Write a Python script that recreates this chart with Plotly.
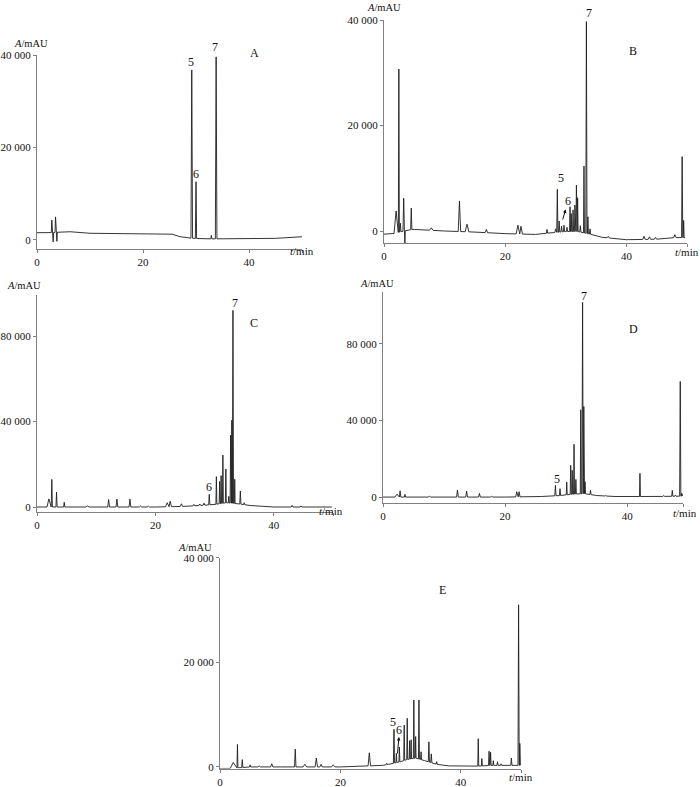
import numpy as np
import plotly.graph_objects as go

W, H = 700, 787
FONT = "Liberation Serif"

# ---------------- data (retention time in min, absorbance in mAU) ----------------
# Panel A
A_base_t = [0, 2.5, 6, 10, 20, 25.5, 27, 28.5, 31, 35, 45, 50]
A_base_y = [1580, 1580, 1800, 1450, 1300, 1250, 700, 450, 250, 250, 350, 700]
A_peak_t = [2.8, 3.05, 3.5, 3.75, 6.0, 29.2, 30.0, 32.9, 33.8]
A_peak_h = [4300, -400, 5000, -300, 1900, 36760, 12600, 1000, 39600]
A_peak_w = [0.1, 0.08, 0.1, 0.08, 0.2, 0.15, 0.12, 0.1, 0.15]

# Panel B
B_base_t = [0, 1.2, 4, 5, 10, 15, 20, 25, 27, 28, 30, 32, 34, 36, 40, 45, 48, 49.7]
B_base_y = [-600, -600, 200, 300, 0, -200, -500, -650, -400, -300, -100, -100, -600, -1200, -1650, -1550, -1250, -1250]
B_peak_t = [2.0, 2.45, 2.7, 3.25, 3.45, 4.5, 7.8, 12.45, 13.7, 16.9, 22.1, 22.6, 26.9,
            28.3, 28.6, 28.9, 29.3, 29.7, 30.2, 30.7, 30.9, 31.2, 31.5, 31.75, 31.95,
            32.4, 33.0, 33.4, 33.65, 34.0, 37.0, 42.9, 43.8, 44.8, 48.0, 49.2, 49.45]
B_peak_h = [3800, 30700, 1500, 6200, -2650, 4350, 600, 5700, 1300, 300, 1100, 900, 300,
            400, 7900, 1900, 900, 1100, 700, 4600, 3300, 4000, 4900, 8700, 6300,
            1000, 12300, 39700, 2700, 400, -1000, -1000, -1100, -1200, -700, 14100, 2000]
B_peak_w = [0.35, 0.08, 0.1, 0.12, 0.06, 0.1, 0.3, 0.2, 0.3, 0.2, 0.3, 0.25, 0.1,
            0.1, 0.1, 0.1, 0.1, 0.1, 0.1, 0.08, 0.08, 0.08, 0.08, 0.08, 0.08,
            0.1, 0.08, 0.1, 0.08, 0.1, 0.2, 0.2, 0.2, 0.2, 0.2, 0.1, 0.08]

# Panel C
C_base_t = [0, 1.5, 5, 10, 20, 25, 28, 30, 32, 34, 36, 40, 49.8]
C_base_y = [0, 0, 0, 0, 0, 300, 800, 1200, 2000, 1500, 700, 0, 0]
C_peak_t = [2.0, 2.5, 3.3, 4.6, 8.5, 12.1, 13.5, 15.7, 17.5, 18.8, 22.0, 22.5, 24.4,
            26.5, 27.5, 28.2, 29.1, 30.3, 30.85, 31.1, 31.4, 31.9, 32.4, 32.7, 32.9,
            33.1, 33.4, 34.35, 35.0, 43.1, 44.6]
C_peak_h = [3800, 12900, 6900, 2200, 500, 3500, 3700, 3700, 500, 400, 2000, 2700, 1500,
            1200, 1400, 1800, 5900, 14200, 12000, 14700, 24300, 17800, 5000, 33600, 40600,
            92000, 13000, 7500, 2000, 700, 500]
C_peak_w = [0.3, 0.1, 0.1, 0.1, 0.3, 0.15, 0.15, 0.15, 0.2, 0.2, 0.3, 0.2, 0.2,
            0.15, 0.15, 0.15, 0.1, 0.08, 0.08, 0.08, 0.08, 0.08, 0.08, 0.07, 0.07,
            0.1, 0.07, 0.1, 0.1, 0.15, 0.15]

# Panel D
D_base_t = [0, 2, 20, 26, 29, 31, 33, 35, 38, 45, 49.1]
D_base_y = [0, 0, 0, 300, 800, 1500, 1800, 800, 300, 300, 500]
D_peak_t = [2.3, 2.8, 3.6, 7.6, 12.2, 13.7, 15.8, 17.8, 21.9, 22.3, 27.4, 28.25, 29.0,
            30.1, 30.75, 31.0, 31.3, 31.6, 32.4, 32.7, 32.9, 33.1, 34.0, 36.5, 42.1,
            44.5, 46.0, 47.4, 47.9, 48.7, 48.95]
D_peak_h = [1500, 3300, 1400, 400, 3700, 3100, 1900, 400, 2800, 2800, 800, 6100, 4400,
            7800, 16600, 14000, 27600, 9200, 45600, 101700, 47300, 8000, 3500, 800, 12400,
            600, 800, 3500, 1000, 60400, 2000]
D_peak_w = [0.35, 0.12, 0.1, 0.2, 0.15, 0.15, 0.15, 0.2, 0.15, 0.15, 0.1, 0.1, 0.1,
            0.08, 0.08, 0.07, 0.08, 0.08, 0.08, 0.1, 0.07, 0.08, 0.1, 0.15, 0.08,
            0.1, 0.15, 0.1, 0.1, 0.1, 0.08]

# Panel E
E_base_t = [0, 1.5, 5, 10, 20, 27, 28, 30, 31, 32.5, 34, 36, 38, 42, 45, 48, 49.9]
E_base_y = [-300, -300, 0, 0, 0, 300, 500, 1000, 1400, 1700, 1200, 500, 200, 100, 300, 300, 300]
E_peak_t = [2.2, 2.9, 3.7, 5.0, 6.5, 8.6, 12.5, 14.1, 16.0, 16.8, 18.8, 24.8, 27.7,
            28.9, 29.3, 29.8, 30.6, 31.1, 31.5, 31.75, 32.2, 32.5, 33.05, 33.4, 34.7,
            35.1, 36.0, 42.9, 43.5, 44.7, 44.95, 45.4, 46.1, 46.7, 48.4, 49.6, 49.8]
E_peak_h = [850, 4300, 1400, 400, 200, 600, 3400, 500, 1700, 500, 400, 2700, 700,
            7200, 2600, 3800, 8000, 9300, 5000, 5200, 12800, 5800, 12800, 2900, 4800,
            2500, 1000, 5400, 1600, 3000, 2800, 1200, 1000, 600, 1700, 31000, 4500]
E_peak_w = [0.5, 0.08, 0.1, 0.1, 0.2, 0.2, 0.12, 0.3, 0.2, 0.2, 0.3, 0.2, 0.1,
            0.1, 0.08, 0.08, 0.08, 0.08, 0.07, 0.07, 0.08, 0.07, 0.08, 0.08, 0.1,
            0.1, 0.1, 0.08, 0.08, 0.1, 0.08, 0.08, 0.1, 0.1, 0.1, 0.1, 0.05]

# tick labels
ticks_20k = [0, 20000, 40000]
ticks_20k_text = ["0", "20 000", "40 000"]
ticks_40k = [0, 40000, 80000]
ticks_40k_text = ["0", "40 000", "80 000"]
x_ticks = [0, 20, 40]
x_ticks_text = ["0", "20", "40"]


def build(bt, by, pt, ph, pw):
    """Chromatogram trace: baseline knots plus a spike vertex per read peak."""
    xs, ys = [], []
    for t, y in zip(bt, by):
        if not any(abs(t - p) <= w for p, w in zip(pt, pw)):
            xs.append(t)
            ys.append(y)
    for t, h, w in zip(pt, ph, pw):
        xs += [t - w, t, t + w]
        ys += [float(np.interp(t - w, bt, by)), h, float(np.interp(t + w, bt, by))]
    order = np.argsort(xs, kind="stable")
    return [xs[i] for i in order], [ys[i] for i in order]


def px(x):
    return x / W


def py(y):
    return 1 - y / H


panels = [
    ("A", (A_base_t, A_base_y, A_peak_t, A_peak_h, A_peak_w), (37, 302), (55, 249), [0, 50], [-1950, 40000], ticks_20k, ticks_20k_text),
    ("B", (B_base_t, B_base_y, B_peak_t, B_peak_h, B_peak_w), (384, 687), (20, 243), [0, 50], [-2275, 40000], ticks_20k, ticks_20k_text),
    ("C", (C_base_t, C_base_y, C_peak_t, C_peak_h, C_peak_w), (37, 333), (295, 512), [0, 50], [-2340, 99200], ticks_40k, ticks_40k_text),
    ("D", (D_base_t, D_base_y, D_peak_t, D_peak_h, D_peak_w), (383, 683.3), (291.7, 503), [0, 49.2], [-3100, 107300], ticks_40k, ticks_40k_text),
    ("E", (E_base_t, E_base_y, E_peak_t, E_peak_h, E_peak_w), (220, 521), (557.7, 768.5), [0, 50], [-300, 40000], ticks_20k, ticks_20k_text),
]

fig = go.Figure()
layout = {}
axis_col = "#808080"
for i, (name, d, xd, yd, xr, yr, yt, ytt) in enumerate(panels):
    n = "" if i == 0 else str(i + 1)
    x, y = build(*d)
    fig.add_trace(go.Scatter(x=x, y=y, mode="lines", xaxis="x" + n, yaxis="y" + n,
                             line=dict(color="#1e1e1e", width=0.9), showlegend=False,
                             hoverinfo="skip"))
    layout["xaxis" + n] = dict(domain=[px(xd[0]), px(xd[1])], range=xr, anchor="y" + n,
                               automargin=False,
                               showline=True, linecolor=axis_col, linewidth=1,
                               ticks="outside", ticklen=3, tickcolor=axis_col,
                               tickvals=x_ticks + [xr[1]], ticktext=x_ticks_text + [""],
                               showgrid=False, zeroline=False,
                               tickfont=dict(family=FONT, size=11, color="#111"))
    layout["yaxis" + n] = dict(domain=[py(yd[1]), py(yd[0])], range=yr, anchor="x" + n,
                               automargin=False,
                               showline=True, linecolor=axis_col, linewidth=1,
                               ticks="outside", ticklen=3, tickcolor=axis_col,
                               tickvals=yt, ticktext=ytt,
                               showgrid=False, zeroline=False,
                               tickfont=dict(family=FONT, size=11, color="#111"))

ann = []


def text(s, x, y, size=12):
    ann.append(dict(text=s, x=px(x), y=py(y), xref="paper", yref="paper",
                    showarrow=False, xanchor="center", yanchor="middle",
                    font=dict(family=FONT, size=size, color="#111")))


# axis titles
for (x, y) in [(31, 43), (384, 8), (24, 285), (377, 283), (195, 547)]:
    text("<i>A</i>/mAU", x, y, 10.5)
for (x, y) in [(302, 251), (687, 252), (331, 511), (685, 513), (521, 777)]:
    text("<i>t</i>/min", x, y, 11)

# panel letters
for s, x, y in [("A", 254, 53), ("B", 633, 51), ("C", 254, 323), ("D", 633, 329), ("E", 442, 590)]:
    text(s, x, y, 12)

# peak numbers
for s, x, y in [("5", 191, 62), ("6", 196, 174), ("7", 215, 47),
                ("5", 561, 178), ("6", 568, 201), ("7", 589, 13),
                ("6", 209, 487), ("7", 235, 303),
                ("5", 557, 479), ("7", 584, 296),
                ("5", 392.7, 722), ("6", 399, 729.5)]:
    text(s, x, y, 12)

# arrows to peak 6 (B and E)
for (hx, hy, tx, ty) in [(565.7, 209.3, 562.3, 221), (399, 737, 397.3, 755)]:
    ann.append(dict(text="", x=px(hx), y=py(hy), xref="paper", yref="paper",
                    ax=tx - hx, ay=ty - hy, showarrow=True, arrowhead=2,
                    arrowsize=0.7, arrowwidth=1, arrowcolor="#111"))

fig.update_layout(template="none", width=W, height=H, margin=dict(l=0, r=0, t=0, b=0),
                  paper_bgcolor="white", plot_bgcolor="white",
                  annotations=ann, **layout)
fig.write_html("out.html", config={"displayModeBar": False, "staticPlot": True},
               post_script="document.body.style.margin='0';document.body.style.padding='0';"
                           "document.body.style.overflow='hidden';")
